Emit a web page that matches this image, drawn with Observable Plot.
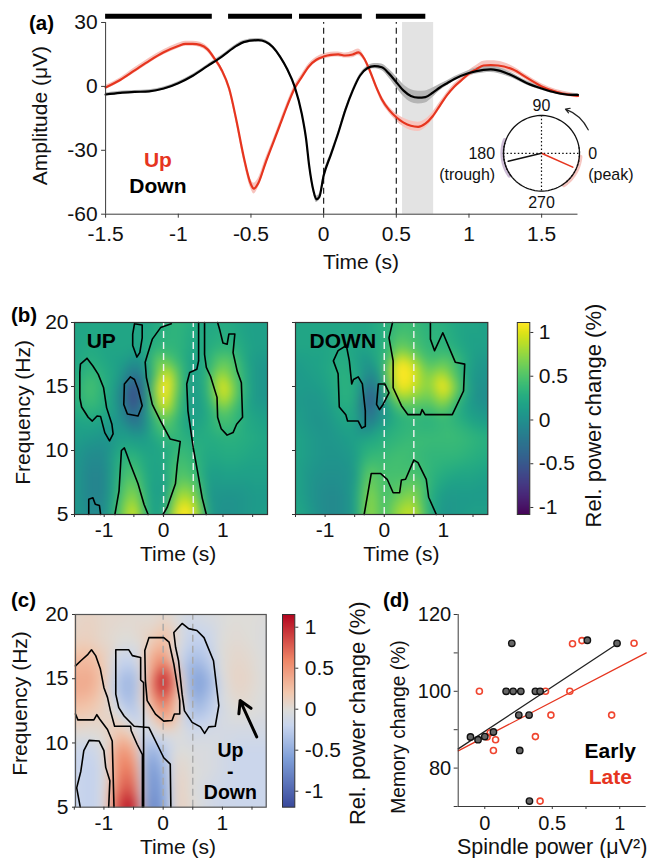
<!DOCTYPE html>
<html><head><meta charset="utf-8">
<script src="https://cdn.jsdelivr.net/npm/d3@7"></script>
<script src="https://cdn.jsdelivr.net/npm/@observablehq/plot@0.6"></script>
<style>
html,body{margin:0;padding:0;background:#fff}
#page{position:relative;width:648px;height:858px;overflow:hidden;font-family:"Liberation Sans",Arial,sans-serif}
.tag{position:absolute;font-weight:bold;color:#000;line-height:1}
</style></head><body><div id="page"></div>
<script>
// ---------- panel (a) ----------
const timeA=[-1.5,-1.4,-1.3,-1.2,-1.1,-1,-0.95,-0.9,-0.85,-0.8,-0.75,-0.7,-0.65,-0.6,-0.55,-0.5,-0.48,-0.45,-0.4,-0.35,-0.3,-0.25,-0.2,-0.15,-0.1,-0.05,0,0.05,0.1,0.15,0.2,0.24,0.28,0.32,0.36,0.4,0.45,0.5,0.55,0.6,0.65,0.7,0.75,0.8,0.85,0.9,0.95,1,1.05,1.1,1.15,1.2,1.3,1.4,1.5,1.6,1.7,1.75];
const upAmp=[-0.5,3,7.5,12,16,19,20,20,19.5,17.5,13,7.5,-1,-16,-33,-46,-48,-45.5,-36,-27,-18,-9,-1,4.5,9.5,12.5,14,14.8,15,14.5,15,16,13,7,0,-6,-11,-14.5,-17,-18.5,-19,-17.5,-14,-9,-4,0,3,6,8,9.8,10,9.8,8,4,0,-2.5,-4,-4.5];
const upSem=[1,1,1.2,1.2,1.2,1.2,1.2,1.2,1.2,1.2,1.2,1.2,1.5,1.5,2,2.2,2.5,2.2,2,1.5,1.5,1.5,1.5,1.2,1.2,1.2,1.2,1.2,1.2,1.2,1.5,1.5,1.2,1.2,1.2,1.5,1.5,1.8,2,2.2,2.2,2,1.8,1.5,1.2,1.2,1.2,1.5,1.8,2,2,2,1.5,1.2,1.2,1,1,1];
const timeB=[-1.5,-1.4,-1.3,-1.2,-1.1,-1,-0.9,-0.8,-0.7,-0.6,-0.55,-0.45,-0.4,-0.35,-0.3,-0.25,-0.2,-0.15,-0.12,-0.1,-0.07,-0.05,-0.03,0,0.05,0.1,0.15,0.2,0.25,0.3,0.35,0.4,0.45,0.5,0.55,0.6,0.65,0.7,0.75,0.8,0.85,0.9,1,1.1,1.15,1.2,1.3,1.4,1.5,1.6,1.7,1.75];
const downAmp=[-3.8,-3,-2.6,-2.3,-1,1.5,5,9.5,14,19,20.8,21.7,21,18.5,14,8,0,-13,-25,-37,-49,-53,-52,-42,-32,-22,-11,-2,5,8.5,9.5,9,6,2,-2,-4.5,-5.3,-5,-3,-0.5,1.5,3.5,6.3,7.8,8,7.5,5,1.5,-1,-3,-4,-4];
const downSem=[0.7,0.7,0.7,0.7,0.7,0.7,0.7,0.7,0.7,0.8,0.8,0.8,0.8,0.8,0.8,0.8,0.8,0.8,0.8,0.8,1.2,1.5,1.5,1.2,1,0.8,0.8,0.8,0.8,1,1.2,1.5,2,2.5,2.8,3,3,2.8,2.2,1.5,1.2,1,1.2,1.5,1.5,1.5,1.2,1,0.8,0.7,0.7,0.7];
const sigStart=[-1.5,-0.654,-0.166,0.363];
const sigEnd=[-0.766,-0.214,0.266,0.703];
const polarAngles={up:-24,down:193.6};
const polarLength=0.9;
const upPhases=[-48,-42,-36,-30,-26,-18,-12,-5,2,8];
const downPhases=[165,170,175,180,185,190,195,200,205,210,215];

// ---------- heat maps (b, c) ----------
const gridT=[-1.5,-1.25,-1,-0.75,-0.5,-0.25,0,0.25,0.5,0.75,1,1.25,1.5,1.75];
const gridF=[20,18,16.5,15,14,12.5,11,9.5,8,6.5,5];
const upPower=[
[.2,.2,.2,.2,.2,.2,.3,.35,.25,.2,.25,.2,.15,.15],
[.2,.25,.2,.2,.2,.25,.35,.35,.2,.25,.35,.3,.15,.15],
[.2,.35,.25,.15,-.15,.2,.85,.45,.1,.3,.7,.45,.1,.05],
[.25,.5,.3,.05,-.65,.15,1.45,.5,.05,.35,1.15,.5,.1,.05],
[.25,.45,.3,0,-.75,.1,1.25,.4,.05,.3,1,.45,.1,.05],
[.2,.25,.2,.05,-.4,.1,.65,.3,.1,.25,.5,.35,.2,.15],
[.15,.1,.05,.15,.1,.15,.35,.35,.25,.25,.3,.3,.25,.2],
[.1,-.05,-.05,.3,.35,.2,.2,.45,.35,.2,.25,.25,.2,.2],
[.1,-.1,-.1,.35,.55,.2,.15,.55,.45,.1,.15,.15,.15,.15],
[.1,-.1,-.1,.4,.8,.2,.1,.85,.75,.05,.05,.05,.1,.1],
[.1,-.05,-.05,.5,1.1,.2,.15,1.3,1.1,.1,0,.05,.1,.15]];
const downPower=[
[.2,.2,.2,.2,.2,.2,.3,.4,.4,.3,.3,.2,.2,.15],
[.2,.2,.2,.25,.2,.2,.3,.65,.5,.35,.35,.25,.15,.15],
[.1,.15,.2,.3,.25,-.05,.35,1.5,1,.5,.7,.4,.1,.05],
[.1,.1,.15,.3,.3,-.35,.2,1.2,.95,.65,1.25,.55,.05,0],
[.1,.05,.1,.3,.3,-.6,.1,.75,.65,.55,.9,.35,.05,-.05],
[.15,.05,.05,.2,.25,-.3,.1,.3,.35,.3,.4,.3,.15,.1],
[.2,.1,.05,.1,.15,.2,.3,.35,.4,.4,.4,.4,.35,.3],
[.2,.1,.05,.05,.1,.4,.4,.45,.4,.35,.35,.35,.3,.25],
[.2,.05,0,0,.05,.65,.45,.45,.5,.35,.25,.2,.2,.15],
[.2,.05,-.05,-.05,.1,.8,.4,.6,.75,.3,.1,.1,.1,.1],
[.25,.1,-.05,-.05,.1,.85,.4,.85,1,.3,.05,.1,.15,.15]];
const diffPower=[
[.05,.1,.05,.05,.03,0,.05,-.05,-.1,-.05,-.02,0,0,-.02],
[.1,.12,.05,0,0,.1,.3,0,-.25,-.2,0,.03,0,-.05],
[.25,.3,.15,-.2,-.2,.3,.6,-.1,-.4,-.3,0,.07,.03,-.05],
[.35,.4,.2,-.35,-.45,.35,1.2,.25,-.6,-.5,-.02,.1,.05,-.05],
[.35,.35,.15,-.35,-.45,.35,1.05,.25,-.6,-.45,-.05,.08,.03,-.05],
[.2,.2,.1,-.1,-.35,.1,.6,.15,-.4,-.3,-.1,0,0,-.05],
[.05,.02,.05,.2,0,-.1,.1,.02,-.15,-.12,-.1,-.1,-.1,-.1],
[-.15,-.2,-.05,.5,.4,-.5,-.3,0,-.05,-.05,-.12,-.17,-.17,-.17],
[-.15,-.25,-.1,.6,.65,-.7,-.45,.1,-.03,-.05,-.12,-.17,-.17,-.17],
[-.15,-.25,-.1,.7,.85,-.75,-.55,.15,-.03,-.1,-.15,-.17,-.17,-.17],
[-.15,-.25,-.1,.9,1.2,-.85,-.6,.15,0,-.1,-.17,-.17,-.17,-.17]];

const upContours=[
[[-1.29,17.2],[-1.40,16.75],[-1.41,16.1],[-1.41,14.1],[-1.38,13.4],[-1.27,12.6],[-1.20,12.3],[-1.12,12.7],[-1.06,12.65],[-.99,11.4],[-.91,10.75],[-.85,11.3],[-.87,12.05],[-.96,13.35],[-1.01,14.9],[-1.10,15.95],[-1.19,16.6],[-1.29,17.2]],
[[-.56,15.75],[-.66,15.2],[-.67,13.6],[-.61,12.85],[-.43,12.7],[-.36,13.5],[-.43,14.8],[-.49,15.55],[-.56,15.75]],
[[-.49,19.9],[-.52,19.1],[-.52,18.2],[-.45,17.3],[-.40,17.65],[-.36,18.8],[-.36,19.8],[-.49,19.9]],
[[.13,19.9],[-.05,19.6],[-.19,18.7],[-.26,17.65],[-.31,16.9],[-.29,15.7],[-.19,13.6],[-.05,12.3],[.11,10.9],[.28,10.7],[.23,8.9],[.20,7.4],[.06,5.55],[-.01,5]],
[[.72,5],[.65,6.3],[.58,8.15],[.50,10.2],[.41,13.1],[.39,15.2],[.44,16.1],[.56,16.35],[.59,17],[.59,20]],
[[.69,20],[.69,17.5],[.72,16.5],[.79,15.8],[.90,14.15],[.91,12.6],[.97,11.7],[1.07,11.2],[1.17,11.4],[1.23,12.05],[1.33,12.6],[1.31,15.3],[1.24,16.2],[1.17,17.65],[1.20,19.1],[1.10,19.1],[1.07,18.3],[1.0,18.4],[.95,19.35],[.91,20]],
[[-1.26,5],[-1.26,6.2],[-1.19,6.3],[-1.15,5.8],[-1.08,5.7],[-1.06,5]],
[[-.82,5],[-.75,6.85],[-.71,10],[-.66,10.2],[-.62,9.7],[-.56,8.95],[-.43,7.4],[-.33,5.8],[-.26,5]]];
const downContours=[
[[-.64,18.2],[-.78,17.8],[-.86,17],[-.78,16],[-.76,13.4],[-.65,12.8],[-.62,12.3],[-.44,12.3],[-.38,11.75],[-.32,11.9],[-.32,13.1],[-.37,15.2],[-.44,15.75],[-.52,15.55],[-.55,15.2],[-.59,17],[-.64,18.2]],
[[-.10,15.2],[-.13,13.6],[-.08,13.2],[-.02,13.6],[.08,14.5],[.01,15.2],[-.10,15.2]],
[[.14,20],[.08,18.8],[.15,17],[.15,14.9],[.29,13.5],[.40,12.8],[.61,12.8],[.64,13.2],[.69,12.8],[1.15,12.8],[1.34,14.65],[1.36,16.75],[1.20,16.9],[.99,19.2],[.85,17.8],[.78,18.7],[.78,20]],
[[-.34,5],[-.27,6.85],[-.22,8.2],[-.06,8.2],[.05,7.75],[.15,6.7],[.26,6.7],[.29,7.7],[.36,7.75],[.50,9.25],[.57,9.05],[.71,7.75],[.75,6.35],[.88,5]]];
const diffContours=[
[[-1.48,16],[-1.39,16.4],[-1.27,16.9],[-1.21,17.25],[-1.14,16.8],[-1.06,15.75],[-1,14.3],[-.94,13.55],[-.89,12.5],[-.82,11.3],[-.55,11.3],[-.54,10.95],[-.44,9.9],[-.35,9.1],[-.35,5]],
[[-1.48,12.25],[-1.44,11.8],[-1.17,11.8],[-1.12,12.2],[-1.07,11.85],[-.94,11.05],[-.86,10.15],[-.83,5]],
[[-.33,5],[-.33,14.7],[-.38,14.9],[-.38,16.65],[-.52,16.8],[-.58,17.25],[-.80,17.25],[-.80,13.8],[-.75,12.75],[-.66,12.1],[-.49,11.3],[-.24,11.2],[.01,8.85],[.12,8.35],[.13,5]],
[[-.24,18.2],[-.31,17.2],[-.30,14.85],[-.27,13.3],[-.13,12.25],[.01,11.7],[.15,11.75],[.19,12.25],[.28,12.25],[.28,13.3],[.18,16.15],[.10,17.85],[.01,18.2],[-.24,18.2]],
[[.32,19.3],[.18,18.6],[.21,17.45],[.26,16.4],[.32,13.8],[.36,12.5],[.49,11.6],[.63,11.25],[.70,10.75],[.77,11.25],[.88,11.3],[.94,12.9],[.85,16.4],[.69,18.2],[.57,18.75],[.43,18.9],[.32,19.3]],
[[-1.40,5],[-1.46,6.5],[-1.39,7.8],[-1.34,9.4],[-1.25,10.2],[-1.08,10.15],[-1,9.4],[-.97,8.1],[-.90,7.05],[-.92,5]]];

// ---------- panel (d) ----------
const earlyX=[-.106,-.05,0,.064,.2,.158,.21,.267,.375,.41,.252,.328,.259,.331,.76,.98];
const earlyY=[88.1,87.4,88.2,89.4,112.5,100,100,100,100,100,93.8,93.8,84.6,71.4,113.3,112.5];
const lateX=[-.04,.65,.72,1.106,.45,.63,.49,.94,.375,.017,.04,.08,.064,.41];
const lateY=[100,112.4,113.2,112.5,100,100,93.8,93.8,88.2,88.1,89.2,87.4,84.6,71.4];
const earlyFit=[[-.197,85],[.98,112.3]];
const lateFit=[[-.197,84.5],[1.196,110]];

// ---------- colours ----------
const RED="#e6351f", AX="#3a3a3a";
const viridisScale={type:"linear",scheme:"viridis",domain:[-1.1,1.11]};
const coolwarmScale={type:"linear",domain:[-1.19,-.6,-.2,0,.2,.6,1.155],range:["#3a4a9c","#7f9fd8","#c8d5ee","#dedcd8","#f2c8ae","#ee8566","#b2051f"]};

const page=document.getElementById("page");
const PAD_T=40,PAD_B=70;
function panel({L,R,T,B,font=21,marks,x,y,color}){
  const h=B-T;
  const svg=Plot.plot({
    width:648,height:h+PAD_T+PAD_B,
    marginLeft:L,marginRight:648-R,marginTop:PAD_T,marginBottom:PAD_B,
    style:{background:"transparent",overflow:"visible",fontFamily:'"Liberation Sans",Arial,sans-serif',fontSize:font+"px",color:"#111"},
    x,y,color,marks
  });
  svg.style.position="absolute";svg.style.left="0";svg.style.top=(T-PAD_T)+"px";
  svg.style.width="648px";svg.style.height=(h+PAD_T+PAD_B)+"px";svg.style.maxWidth="none";
  page.appendChild(svg);
}
function tag(t,x,y,size){const d=document.createElement("div");d.className="tag";d.textContent=t;d.style.left=x+"px";d.style.top=(y-size/2)+"px";d.style.fontSize=size+"px";page.appendChild(d);}
const hy=d=>String(d);
const rows=(m)=>gridF.flatMap((f,i)=>gridT.map((t,j)=>({t,f,v:m[i][j]})));
const contourMarks=(cs,w=1.6)=>cs.map(c=>Plot.line(c,{x:d=>d[0],y:d=>d[1],stroke:"#000",strokeWidth:w,strokeLinejoin:"round"}));
const heat=(m)=>Plot.raster(rows(m),{x:"t",y:"f",fill:"v",x1:-1.5,x2:1.75,y1:5,y2:20,interpolate:"barycentric",pixelSize:1,blur:5,imageRendering:"auto"});
const xTitle=(s,x,dy)=>Plot.text([s],{x,frameAnchor:"bottom",dy,text:d=>d,fill:"#111"});
const yTitle=(s,x,y,fontSize)=>Plot.text([s],{x:()=>x,y:()=>y,rotate:-90,text:d=>d,fill:"#111",fontSize});

// ---------- (a) ----------
const upRows=timeA.map((t,i)=>({t,a:upAmp[i],s:upSem[i]}));
const downRows=timeB.map((t,i)=>({t,a:downAmp[i],s:downSem[i]}));
panel({L:105.1,R:577.5,T:22,B:213.7,
  x:{domain:[-1.5,1.75]},y:{domain:[-60,30]},
  marks:[
    Plot.rect([[.543,.757]],{x1:d=>d[0],x2:d=>d[1],y1:-60,y2:30,fill:"#e3e3e3"}),
    Plot.areaY(upRows,{x:"t",y1:d=>d.a-d.s,y2:d=>d.a+d.s,fill:"#f7c4be",curve:"monotone-x"}),
    Plot.areaY(downRows,{x:"t",y1:d=>d.a-d.s,y2:d=>d.a+d.s,fill:"#b5b5b5",curve:"monotone-x"}),
    Plot.ruleX([0,.5],{y1:-60,y2:30,stroke:"#222",strokeWidth:1.2,strokeDasharray:"6,4"}),
    Plot.line(upRows,{x:"t",y:"a",stroke:RED,strokeWidth:2.2,curve:"monotone-x"}),
    Plot.line(downRows,{x:"t",y:"a",stroke:"#000",strokeWidth:2.2,curve:"monotone-x"}),
    Plot.ruleY(sigStart.map((a,i)=>[a,sigEnd[i]]),{x1:d=>d[0],x2:d=>d[1],y:()=>32.9,stroke:"#000",strokeWidth:5}),
    Plot.ruleX([-1.5],{y1:-60,y2:30,stroke:AX}),
    Plot.ruleY([-60],{stroke:AX}),
    Plot.axisX({ticks:[-1.5,-1,-.5,0,.5,1,1.5],tickFormat:hy,tickSize:4,tickPadding:8,stroke:AX,label:null,color:"#111"}),
    Plot.axisY({ticks:[30,0,-30,-60],tickFormat:hy,tickSize:4,tickPadding:4,stroke:AX,label:null,color:"#111"}),
    xTitle("Time (s)",.257,55),
    yTitle("Amplitude (μV)",-1.948,-13.7),
    Plot.text(["Up"],{x:-1.14,y:-34.6,text:d=>d,fill:RED,fontWeight:"bold"}),
    Plot.text(["Down"],{x:-1.14,y:-46.8,text:d=>d,fill:"#000",fontWeight:"bold"})
  ]});
// polar inset
const ring=d3.range(0,361,4);
const pol=(a,r=1)=>[r*Math.cos(a*Math.PI/180),r*Math.sin(a*Math.PI/180)];
panel({L:503,R:579,T:114.9,B:190.5,font:16,
  x:{domain:[-1,1],axis:null},y:{domain:[-1,1],axis:null},
  marks:[
    Plot.line(d3.range(-55,0,5),{x:a=>pol(a,1.03)[0],y:a=>pol(a,1.03)[1],stroke:"#f6c7c2",strokeWidth:4}),
    Plot.line(d3.range(160,220,5),{x:a=>pol(a,1.03)[0],y:a=>pol(a,1.03)[1],stroke:"#cdbcd6",strokeWidth:4}),
    Plot.line(ring,{x:a=>pol(a)[0],y:a=>pol(a)[1],stroke:"#111",strokeWidth:1.3}),
    Plot.ruleY([0],{x1:-1,x2:1,stroke:"#111",strokeDasharray:"1.5,2.2",strokeWidth:1.2}),
    Plot.ruleX([0],{y1:-1,y2:1,stroke:"#111",strokeDasharray:"1.5,2.2",strokeWidth:1.2}),
    Plot.line([[0,0],pol(polarAngles.up,polarLength)],{x:d=>d[0],y:d=>d[1],stroke:RED,strokeWidth:1.6}),
    Plot.line([[0,0],pol(polarAngles.down,polarLength)],{x:d=>d[0],y:d=>d[1],stroke:"#111",strokeWidth:1.6}),
    Plot.dot(upPhases,{x:a=>pol(a)[0],y:a=>pol(a)[1],r:.8,fill:"#111"}),
    Plot.dot(downPhases,{x:a=>pol(a)[0],y:a=>pol(a)[1],r:.8,fill:"#111"}),
    Plot.arrow([0],{x1:()=>1.23,y1:()=>.62,x2:()=>.63,y2:()=>1.17,bend:-22,stroke:"#222",strokeWidth:1.2,headLength:6}),
    Plot.text(["90"],{x:0,y:1.26,text:d=>d}),
    Plot.text(["270"],{x:0,y:-1.3,text:d=>d}),
    Plot.text(["180"],{x:-1.22,y:-.02,text:d=>d,textAnchor:"end"}),
    Plot.text(["(trough)"],{x:-1.22,y:-.58,text:d=>d,textAnchor:"end"}),
    Plot.text(["0"],{x:1.23,y:-.02,text:d=>d,textAnchor:"start"}),
    Plot.text(["(peak)"],{x:1.23,y:-.58,text:d=>d,textAnchor:"start"})
  ]});

// ---------- (b) ----------
const tickB=[-1.5,-1,-.5,0,.5,1,1.5];
const fmtT=d=>Number.isInteger(d)?String(d):"";
const heatFrame=(m,cs,title,tx,showY,xt)=>[
  heat(m),
  Plot.ruleX([0,.5],{y1:5,y2:20,stroke:"#f2f2f2",strokeWidth:1.4,strokeDasharray:"7,4"}),
  ...contourMarks(cs),
  Plot.frame({stroke:"#333",strokeWidth:1.2}),
  Plot.axisX({ticks:tickB,tickFormat:fmtT,tickSize:3,tickPadding:5,stroke:"#333",label:null,color:"#111"}),
  Plot.axisY({ticks:[5,10,15,20],tickFormat:showY?hy:()=>"",tickSize:3,tickPadding:3,stroke:"#333",label:null,color:"#111"}),
  xTitle("Time (s)",xt,46),
  ...(showY?[yTitle("Frequency (Hz)",-2.359,12.97)]:[]),
  Plot.text([title],{x:tx,y:18.5,text:d=>d,fontWeight:"bold",fill:"#000"})
];
panel({L:74,R:267,T:321.7,B:513.7,x:{domain:[-1.5,1.75]},y:{domain:[5,20]},color:viridisScale,marks:heatFrame(upPower,upContours,"UP",-1.05,true,.245)});
panel({L:295,R:487.3,T:321.7,B:513.7,x:{domain:[-1.5,1.75]},y:{domain:[5,20]},color:viridisScale,marks:heatFrame(downPower,downContours,"DOWN",-.7,false,.29)});
const cbar=(lo,hi,label,labelY,labelX,pad)=>[
  Plot.raster({fill:(x,y)=>y,x1:0,x2:1,y1:lo,y2:hi,pixelSize:1}),
  Plot.frame({stroke:"#333",strokeWidth:1}),
  Plot.axisY({anchor:"right",ticks:[-1,-.5,0,.5,1],tickFormat:hy,tickSize:3,tickPadding:pad,stroke:"#333",label:null,color:"#111"}),
  yTitle(label,labelX,labelY,22)
];
panel({L:516.8,R:529.3,T:321.7,B:513.7,x:{domain:[0,1],axis:null},y:{domain:[-1.08,1.114]},color:viridisScale,marks:cbar(-1.08,1.114,"Rel. power change (%)",.05,6.1,6)});

// ---------- (c) ----------
panel({L:75,R:265.7,T:614,B:806.7,x:{domain:[-1.48,1.74]},y:{domain:[5,20]},color:coolwarmScale,marks:[
  heat(diffPower),
  Plot.ruleX([0,.5],{y1:5,y2:20,stroke:"#a8a8a8",strokeWidth:1.4,strokeDasharray:"7,4"}),
  ...contourMarks(diffContours),
  Plot.frame({stroke:"#555",strokeWidth:1.2}),
  Plot.axisX({ticks:tickB,tickFormat:fmtT,tickSize:3,tickPadding:5,stroke:"#333",label:null,color:"#111"}),
  Plot.axisY({ticks:[5,10,15,20],tickFormat:hy,tickSize:3,tickPadding:4,stroke:"#333",label:null,color:"#111"}),
  xTitle("Time (s)",.25,47),
  yTitle("Frequency (Hz)",-2.417,13.07),
  Plot.arrow([0],{x1:()=>1.58,y1:()=>10.47,x2:()=>1.30,y2:()=>13.3,stroke:"#000",strokeWidth:3,headLength:15}),
  Plot.text(["Up"],{x:1.135,y:9.4,text:d=>d,fontWeight:"bold",fontSize:19.5,fill:"#000"}),
  Plot.text(["-"],{x:1.135,y:7.75,text:d=>d,fontWeight:"bold",fontSize:19.5,fill:"#000"}),
  Plot.text(["Down"],{x:1.135,y:6.1,text:d=>d,fontWeight:"bold",fontSize:19.5,fill:"#000"})
]});
panel({L:282,R:294.3,T:614,B:806.7,x:{domain:[0,1],axis:null},y:{domain:[-1.195,1.155]},color:coolwarmScale,marks:cbar(-1.195,1.155,"Rel. power change (%)",-.05,6.1,7)});

// ---------- (d) ----------
const early=earlyX.map((x,i)=>({x,y:earlyY[i]})), late=lateX.map((x,i)=>({x,y:lateY[i]}));
panel({L:457.7,R:645.7,T:614,B:806,font:20,x:{domain:[-.197,1.196]},y:{domain:[70,120]},marks:[
  Plot.line(lateFit,{x:d=>d[0],y:d=>d[1],stroke:RED,strokeWidth:1.3}),
  Plot.line(earlyFit,{x:d=>d[0],y:d=>d[1],stroke:"#222",strokeWidth:1.3}),
  Plot.dot(late,{x:"x",y:"y",r:3,stroke:"#f0452f",strokeWidth:1.6,fill:"none"}),
  Plot.dot(early,{x:"x",y:"y",r:3.2,stroke:"#111",strokeWidth:1.4,fill:"#666"}),
  Plot.ruleX([-.197],{y1:70,y2:120,stroke:AX}),
  Plot.ruleY([70],{stroke:AX}),
  Plot.axisX({ticks:[0,.25,.5,.75,1],tickFormat:d=>[0,.5,1].includes(d)?String(d):"",tickSize:3,tickPadding:6,stroke:AX,label:null,color:"#111"}),
  Plot.axisY({ticks:[70,80,90,100,110,120],tickFormat:d=>d%20===0?String(d):"",tickSize:4,tickPadding:3,stroke:AX,label:null,color:"#111"}),
  Plot.text(["Spindle power (μV²)"],{frameAnchor:"bottom",dy:47,text:d=>d,fill:"#111",fontSize:21.5}),
  yTitle("Memory change (%)",-.639,90.7,19.3),
  Plot.text(["Early"],{x:.93,y:84.5,text:d=>d,fontWeight:"bold",fontSize:21,fill:"#000"}),
  Plot.text(["Late"],{x:.93,y:77.6,text:d=>d,fontWeight:"bold",fontSize:21,fill:RED})
]});

tag("(a)",29,23,20.5);
tag("(b)",11,315,20.5);
tag("(c)",11,600,20.5);
tag("(d)",383,600,20.5);
</script></body></html>
